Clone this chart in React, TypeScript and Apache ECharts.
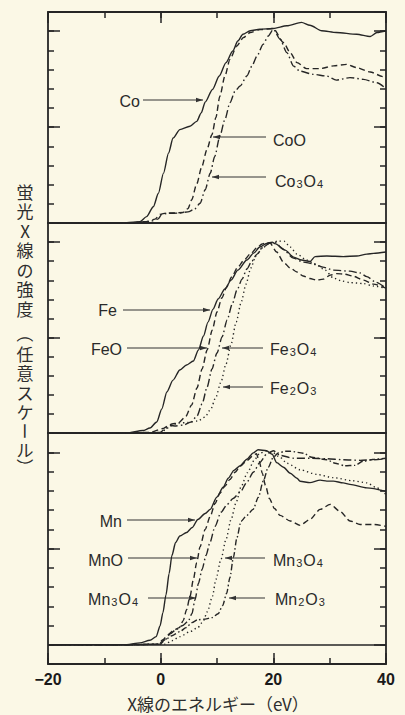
import React, { useEffect, useRef } from 'react';
import * as echarts from 'echarts';

// ---------- data (energy eV, intensity arbitrary scale) ----------
const X_MIN = -20;
const X_MAX = 40;
const xLabelStep = 20;   // labelled / long ticks every 20 eV
const xMinorStep = 10;   // short ticks every 10 eV
const yMajorStep = 5;    // long ticks every 5 units
const yMinorStep = 1;    // short ticks every unit
const Y_TOP = 11;

const Co = [[-20,0],[-6,0.02],[-3.7,0.07],[-2.5,0.33],[-1.3,0.85],[-0.4,1.55],[0.5,2.6],[1.4,3.65],[2.2,4.43],[3.4,4.87],[5.2,5.04],[6.4,5.3],[7.2,5.74],[7.9,6.3],[9.2,6.96],[10.4,7.66],[11.6,8.36],[12.8,8.97],[13.7,9.49],[14.6,9.84],[15.9,10.02],[17.6,10.1],[20,10.14],[22.4,10.28],[25,10.46],[26.5,10.31],[28.6,10.02],[31.2,9.93],[34.8,9.84],[37.2,9.72],[38.4,9.93],[40,10.02]];
const CoO = [[-20,0],[-6,0],[-2.5,0.07],[-1,0.2],[-0.1,0.45],[1,0.52],[2.5,0.52],[4,0.55],[4.85,0.75],[5.5,1.2],[6.4,2.04],[7.3,2.93],[8.2,3.82],[9.1,4.6],[9.8,5.5],[10.5,6.6],[11.4,7.66],[12.3,8.53],[13.5,9.23],[14.7,9.67],[15.9,9.93],[17.6,10.08],[20,10.14],[21.8,9.41],[23,8.88],[24.2,8.36],[25.9,8.05],[28.3,8.05],[30.7,8.19],[33,8.27],[34.8,8.1],[37.2,7.87],[39.5,7.63],[40,7.6]];
const Co3O4 = [[-20,0],[-6,0],[-1.9,0.08],[-0.5,0.2],[0.2,0.45],[1.1,0.5],[3.4,0.52],[4.85,0.58],[6,0.72],[7,1.03],[7.9,1.73],[8.8,2.6],[9.6,3.47],[10.5,4.52],[11.4,5.39],[12.3,6.27],[13.2,6.87],[14.1,7.14],[15.3,7.66],[16.2,8.18],[17.1,8.71],[18.2,9.32],[19.1,9.75],[20,10.1],[21.2,9.58],[22.4,8.88],[23.6,8.18],[24.7,7.92],[27.1,7.75],[29.5,7.66],[31.2,7.45],[33.6,7.58],[36,7.49],[38.4,7.31],[40,7.0]];

const Fe = [[-20,0],[-6,0],[-3.15,0.13],[-1.9,0.26],[-0.7,0.58],[0.2,1.26],[1.1,2.15],[2.2,2.77],[3.4,3.3],[4.6,3.56],[5.8,3.77],[6.7,4.35],[7.6,5.08],[8.4,5.81],[9.3,6.49],[10.2,7.02],[11.4,7.54],[12.5,8.01],[13.7,8.53],[15.3,9.06],[16.5,9.42],[17.6,9.74],[18.8,9.93],[19.8,10.0],[20.3,9.92],[22.1,9.58],[23.6,9.21],[25,9.06],[26.5,8.98],[27.4,9.24],[29.5,9.27],[32.4,9.24],[34.8,9.27],[36.6,9.37],[37.8,9.41],[40,9.48]];
const FeO = [[-20,0],[-6,0],[-1.9,0.03],[0.5,0.24],[1.3,0.37],[2,0.47],[3.1,0.52],[4.4,0.84],[5.5,1.47],[6.45,2.36],[7.35,3.35],[8.25,4.35],[9.15,5.39],[10.0,6.34],[10.85,7.07],[11.7,7.64],[12.6,8.17],[13.7,8.69],[14.8,9.06],[15.9,9.37],[17.05,9.69],[18,9.9],[18.7,9.97],[19.4,9.95],[20.6,9.48],[21.8,8.95],[23,8.64],[24.2,8.43],[25.3,8.22],[26.5,8.09],[27.7,8.01],[28.9,8.06],[30.1,8.27],[31.25,8.35],[32.7,8.32],[34.1,8.22],[36,8.01],[37.75,7.8],[40,7.59]];
const Fe3O4 = [[-20,0],[-6,0],[-0.1,0.03],[0.95,0.26],[1.7,0.39],[2.7,0.37],[4.1,0.42],[5.4,0.58],[6.45,0.89],[7.35,1.52],[8.25,2.41],[9.1,3.35],[10,4.19],[10.9,5.03],[11.8,5.92],[12.7,6.75],[13.55,7.49],[14.45,8.06],[15.3,8.59],[16.2,9.01],[17.1,9.37],[18.2,9.74],[19.4,9.95],[20.3,10.0],[21.7,9.63],[23.55,9.16],[25.3,8.95],[27.1,8.87],[28.8,8.69],[30.65,8.53],[33.6,8.48],[35.4,8.38],[36.6,8.19],[38.2,7.9],[40,7.58]];
const Fe2O3 = [[-20,0],[-6,0],[-0.1,0.02],[0.8,0.16],[1.7,0.37],[3.1,0.52],[4.85,0.55],[6.6,0.63],[7.9,0.84],[8.9,1.26],[9.8,1.88],[10.7,2.67],[11.6,3.61],[12.5,4.66],[13.4,5.81],[14.3,6.86],[15.15,7.8],[16,8.64],[16.9,9.27],[18,9.69],[19.4,9.95],[20.8,10.05],[21.9,10.05],[23,9.74],[24.2,9.37],[25.9,9.06],[27.7,8.8],[29.2,8.53],[30.65,8.12],[32.2,7.96],[33.6,7.88],[36,7.83],[37.75,7.7],[40,7.57]];

const Mn = [[-20,0],[-6,0],[-3.7,0.1],[-1.9,0.23],[-0.8,0.42],[-0.1,0.99],[0.4,1.67],[0.95,2.6],[1.5,3.7],[2.0,4.64],[2.65,5.31],[3.4,5.65],[4.6,5.83],[5.6,6.09],[6.6,6.51],[7.9,6.82],[8.8,7.03],[9.95,7.66],[11.1,8.18],[12,8.65],[13,9.06],[14.1,9.3],[15.3,9.64],[16.45,9.97],[17.3,10.13],[18.8,10.08],[19.8,9.9],[20.6,9.46],[21.8,9.22],[23,8.91],[24.2,8.65],[24.75,8.49],[26.5,8.42],[28.3,8.55],[29.5,8.5],[30.65,8.5],[32.4,8.41],[33.6,8.33],[36.6,8.15],[40,7.97]];
const MnO = [[-20,0],[-6,0],[-0.5,0.03],[0.4,0.26],[1.3,0.52],[2.2,0.73],[3.3,0.89],[4,1.25],[4.6,1.82],[5.2,2.5],[5.8,3.39],[6.4,4.27],[7,5.1],[7.9,5.99],[8.8,6.67],[9.65,7.34],[10.5,7.86],[11.4,8.23],[12.3,8.59],[13.2,8.96],[14.1,9.27],[15.3,9.56],[16.45,9.84],[17,9.92],[17.5,9.53],[18.05,8.9],[18.6,8.28],[19.3,7.6],[20.2,7.08],[21.2,6.72],[23,6.43],[24.75,6.2],[26.5,6.51],[28.3,7.03],[30.1,7.29],[31.85,6.93],[33.6,6.43],[35.4,6.25],[37.75,6.25],[40,6.15]];
const Mn3O4a = [[-20,0],[-6,0],[-0.1,0.03],[0.8,0.26],[1.7,0.57],[2.7,0.78],[3.8,0.99],[4.85,1.2],[5.55,1.61],[6.1,2.34],[6.7,3.18],[7.35,3.91],[8.05,4.64],[8.75,5.31],[9.65,6.15],[10.7,6.88],[11.8,7.29],[12.85,7.6],[14.1,7.92],[15.3,8.44],[16.45,8.96],[17.65,9.48],[18.8,9.9],[20,10.08],[21.2,9.84],[23.55,9.69],[26.5,9.69],[29.5,9.66],[32.4,9.61],[35.4,9.58],[37.75,9.61],[40,9.66]];
const Mn3O4b = [[-20,0],[-6,0],[0.8,0.03],[2,0.21],[3.4,0.42],[5.2,0.68],[6.6,0.89],[7.5,1.2],[8.3,1.72],[9.2,2.52],[9.8,3.39],[10.7,4.43],[11.6,5.47],[12.5,6.51],[13.4,7.4],[14.3,8.23],[15.4,8.94],[16.6,9.58],[17.6,9.95],[18.7,10.05],[19.8,10.0],[21.2,9.74],[22.4,9.43],[24.75,9.09],[27.7,8.85],[30.65,8.68],[34.1,8.52],[36.6,8.41],[38.2,8.18],[40,7.81]];
const Mn2O3 = [[-20,0],[-6,0],[-0.5,0.03],[0.8,0.26],[2,0.47],[3.4,0.68],[4.5,0.89],[5.55,1.15],[6.6,1.3],[7.9,1.33],[9.1,1.41],[10.2,1.61],[11,2.03],[11.7,2.66],[12.3,3.49],[12.9,4.53],[13.55,5.57],[14.25,6.41],[15.3,6.72],[16.4,7.03],[17.35,7.66],[18.2,8.49],[19.1,9.22],[20,9.74],[20.9,9.97],[22.1,10.05],[23,10.05],[25.3,9.95],[26.8,9.74],[29.5,9.61],[30.95,9.43],[32.7,9.3],[34.5,9.32],[35.9,9.53],[38,9.64],[40,9.69]];

const yTitleA = ['蛍', '光', 'X', '線', 'の', '強', '度'];
const yTitleB = ['任', '意', 'ス', 'ケ'];
const xTitle = 'X線のエネルギー（eV）';

// ---------- styling / layout ----------
const BG = '#fbf8e6';
const INK = '#262626';
const LEFT = 48;
const WIDTH = 338;
const SANS = '"Liberation Sans", Arial, sans-serif';
const CJK = '"Noto Sans CJK JP", sans-serif';

const DASH = [6, 3.5];
const DASHDOT = [8, 3, 1.5, 3];
const DASHDOT2 = [6, 2.5, 1.5, 2.5];
const DOT = [1.3, 3];

function tickAxis(gridIndex: number, position: string, interval: number, length: number, min: number, max: number, extra: any = {}) {
  return {
    type: 'value', gridIndex, position, min, max, interval,
    axisLine: { show: false, onZero: false },
    splitLine: { show: false },
    axisLabel: { show: false },
    axisTick: { show: length > 0, inside: true, length, lineStyle: { color: INK, width: 1.5 } },
    ...extra,
  };
}

export default function App() {
  const ref = useRef<HTMLDivElement>(null);
  useEffect(() => {
    document.body.style.margin = '0';
    document.body.style.background = BG;
    const chart = echarts.init(ref.current!, undefined, { renderer: 'svg' });

    const P1 = { left: LEFT, top: 12, width: WIDTH, height: 211 };
    const P2 = { left: LEFT, top: 223, width: WIDTH, height: 210 };
    const P3 = { left: LEFT, top: 433, width: WIDTH, height: 231 };
    const unit3 = P3.height / 12;
    const P3pos = { left: LEFT, top: 433, width: WIDTH, height: unit3 * 11 }; // 0..11 part of panel 3
    const grids = [
      ...[P1, P2, P3].map((g) => ({ ...g, show: true, borderColor: INK, borderWidth: 1.8, backgroundColor: 'transparent' })),
      { ...P1, show: false }, // 3: long ticks panel 1
      { ...P2, show: false }, // 4: long ticks panel 2
      { ...P3pos, show: false }, // 5: long y ticks panel 3
      { ...P3, show: false }, // 6: long x ticks + labels at bottom
    ];

    const xAxis: any[] = [
      tickAxis(0, 'top', xMinorStep, 6, X_MIN, X_MAX),
      tickAxis(1, 'bottom', xMinorStep, 0, X_MIN, X_MAX, { show: false }),
      tickAxis(2, 'bottom', xMinorStep, 6, X_MIN, X_MAX),
      tickAxis(3, 'top', xLabelStep, 11, X_MIN, X_MAX),
      tickAxis(4, 'bottom', xLabelStep, 0, X_MIN, X_MAX, { show: false }),
      tickAxis(5, 'bottom', xLabelStep, 0, X_MIN, X_MAX, { show: false }),
      tickAxis(6, 'bottom', xLabelStep, 11, X_MIN, X_MAX, {
        axisLabel: {
          show: true, margin: 7, fontSize: 16, fontWeight: 'bold', fontFamily: SANS, color: '#1a1a1a',
          formatter: (v: number) => (v < 0 ? '\u2212' + Math.abs(v) : String(v)),
        },
      }),
    ];
    const yAxis: any[] = [
      tickAxis(0, 'left', yMinorStep, 6, 0, Y_TOP),
      tickAxis(0, 'right', yMinorStep, 6, 0, Y_TOP),
      tickAxis(1, 'left', yMinorStep, 6, 0, Y_TOP),
      tickAxis(1, 'right', yMinorStep, 6, 0, Y_TOP),
      tickAxis(2, 'left', yMinorStep, 6, -1, Y_TOP),
      tickAxis(2, 'right', yMinorStep, 6, -1, Y_TOP),
      tickAxis(3, 'left', yMajorStep, 12, 0, Y_TOP),
      tickAxis(3, 'right', yMajorStep, 12, 0, Y_TOP),
      tickAxis(4, 'left', yMajorStep, 12, 0, Y_TOP),
      tickAxis(4, 'right', yMajorStep, 12, 0, Y_TOP),
      tickAxis(5, 'left', yMajorStep, 12, 0, Y_TOP),
      tickAxis(5, 'right', yMajorStep, 12, 0, Y_TOP),
      tickAxis(6, 'left', yMajorStep, 0, -1, Y_TOP, { show: false }),
    ];

    const mk = (name: string, data: number[][], g: number, type: any, extra: any = {}) => ({
      name, type: 'line', data, xAxisIndex: g, yAxisIndex: g * 2,
      showSymbol: false, smooth: 0.25, smoothMonotone: 'x',
      lineStyle: { color: INK, width: 1.4, type },
      z: 3,
      ...extra,
    });

    const series: any[] = [
      mk('Co', Co, 0, 'solid'),
      mk('CoO', CoO, 0, DASH),
      mk('Co3O4', Co3O4, 0, DASHDOT),
      mk('Fe', Fe, 1, 'solid'),
      mk('FeO', FeO, 1, DASH),
      mk('Fe3O4', Fe3O4, 1, DASHDOT),
      mk('Fe2O3', Fe2O3, 1, DOT),
      mk('Mn', Mn, 2, 'solid', {
        markLine: {
          silent: true, symbol: 'none', label: { show: false },
          lineStyle: { color: INK, width: 1.6, type: 'solid' },
          data: [{ yAxis: 0 }],
        },
      }),
      mk('MnO', MnO, 2, DASH),
      mk('Mn3O4 (a)', Mn3O4a, 2, DASHDOT),
      mk('Mn3O4 (b)', Mn3O4b, 2, DOT),
      mk('Mn2O3', Mn2O3, 2, DASHDOT2),
    ];

    // annotations: [rich text, text x, text y, align, arrow start x, arrow end x, arrow y]
    const notes: [string, number, number, string, number, number, number][] = [
      ['{n|Co}', 140, 100, 'right', 143, 203, 100],
      ['{n|CoO}', 273, 139, 'left', 266, 213, 137],
      ['{n|Co}{s|3}{n|O}{s|4}', 275, 180, 'left', 266, 212, 177],
      ['{n|Fe}', 117, 309, 'right', 123, 210, 310],
      ['{n|FeO}', 122, 348, 'right', 127, 207, 348],
      ['{n|Fe}{s|3}{n|O}{s|4}', 270, 348, 'left', 263, 222, 348],
      ['{n|Fe}{s|2}{n|O}{s|3}', 270, 387, 'left', 263, 223, 387],
      ['{n|Mn}', 122, 520, 'right', 127, 195, 520],
      ['{n|MnO}', 123, 559, 'right', 128, 197, 558],
      ['{n|Mn}{s|3}{n|O}{s|4}', 273, 559, 'left', 265, 225, 558],
      ['{n|Mn}{s|3}{n|O}{s|4}', 139, 598, 'right', 148, 196, 598],
      ['{n|Mn}{s|2}{n|O}{s|3}', 275, 598, 'left', 265, 229, 598],
    ];
    const rich = {
      n: { fontSize: 16, fontFamily: SANS, fill: '#2a2a2a', verticalAlign: 'bottom', lineHeight: 18 },
      s: { fontSize: 11, fontFamily: SANS, fill: '#2a2a2a', verticalAlign: 'bottom', lineHeight: 18, padding: [0, 1, 0, 1] },
    };
    const graphics: any[] = [];
    notes.forEach(([t, tx, ty, align, ax1, ax2, ay]) => {
      graphics.push({ type: 'text', x: tx, y: ty, style: { text: t, rich, align, verticalAlign: 'middle' } });
      graphics.push({ type: 'line', shape: { x1: ax1, y1: ay, x2: ax2, y2: ay }, style: { stroke: '#333', lineWidth: 1 } });
      const d = Math.sign(ax2 - ax1);
      graphics.push({ type: 'polygon', shape: { points: [[ax2, ay], [ax2 - d * 7, ay - 2.3], [ax2 - d * 7, ay + 2.3]] }, style: { fill: '#333' } });
    });

    // vertical y-axis title: stacked blocks, brackets and long-vowel mark turned for vertical writing
    const vText = (text: string, y: number, lh: number, rotation = 0) => ({
      type: 'text', x: 25, y, rotation,
      style: { text, fontSize: 17, lineHeight: lh, fontFamily: CJK, fill: '#2e2e2e', align: 'center', verticalAlign: 'middle' },
    });
    const LH = 19.6;
    graphics.push(vText(yTitleA.join('\n'), 191 + 3 * LH, LH));
    graphics.push(vText('（', 334, 17, -Math.PI / 2));
    graphics.push(vText(yTitleB.join('\n'), 353 + 1.5 * LH, LH));
    graphics.push(vText('ー', 431, 17, -Math.PI / 2));
    graphics.push(vText('ル', 449.5, 17));
    graphics.push(vText('）', 467, 17, -Math.PI / 2));

    graphics.push({
      type: 'text', x: 218, y: 703,
      style: { text: xTitle, fontSize: 17, lineHeight: 19, fontFamily: CJK, fill: '#2e2e2e', align: 'center', verticalAlign: 'middle' },
    });

    chart.setOption({
      animation: false,
      backgroundColor: BG,
      grid: grids,
      xAxis, yAxis, series,
      graphic: { elements: graphics },
    });
    return () => chart.dispose();
  }, []);
  return <div ref={ref} style={{ position: 'absolute', left: 0, top: 0, width: 405, height: 715, background: BG }} />;
}
